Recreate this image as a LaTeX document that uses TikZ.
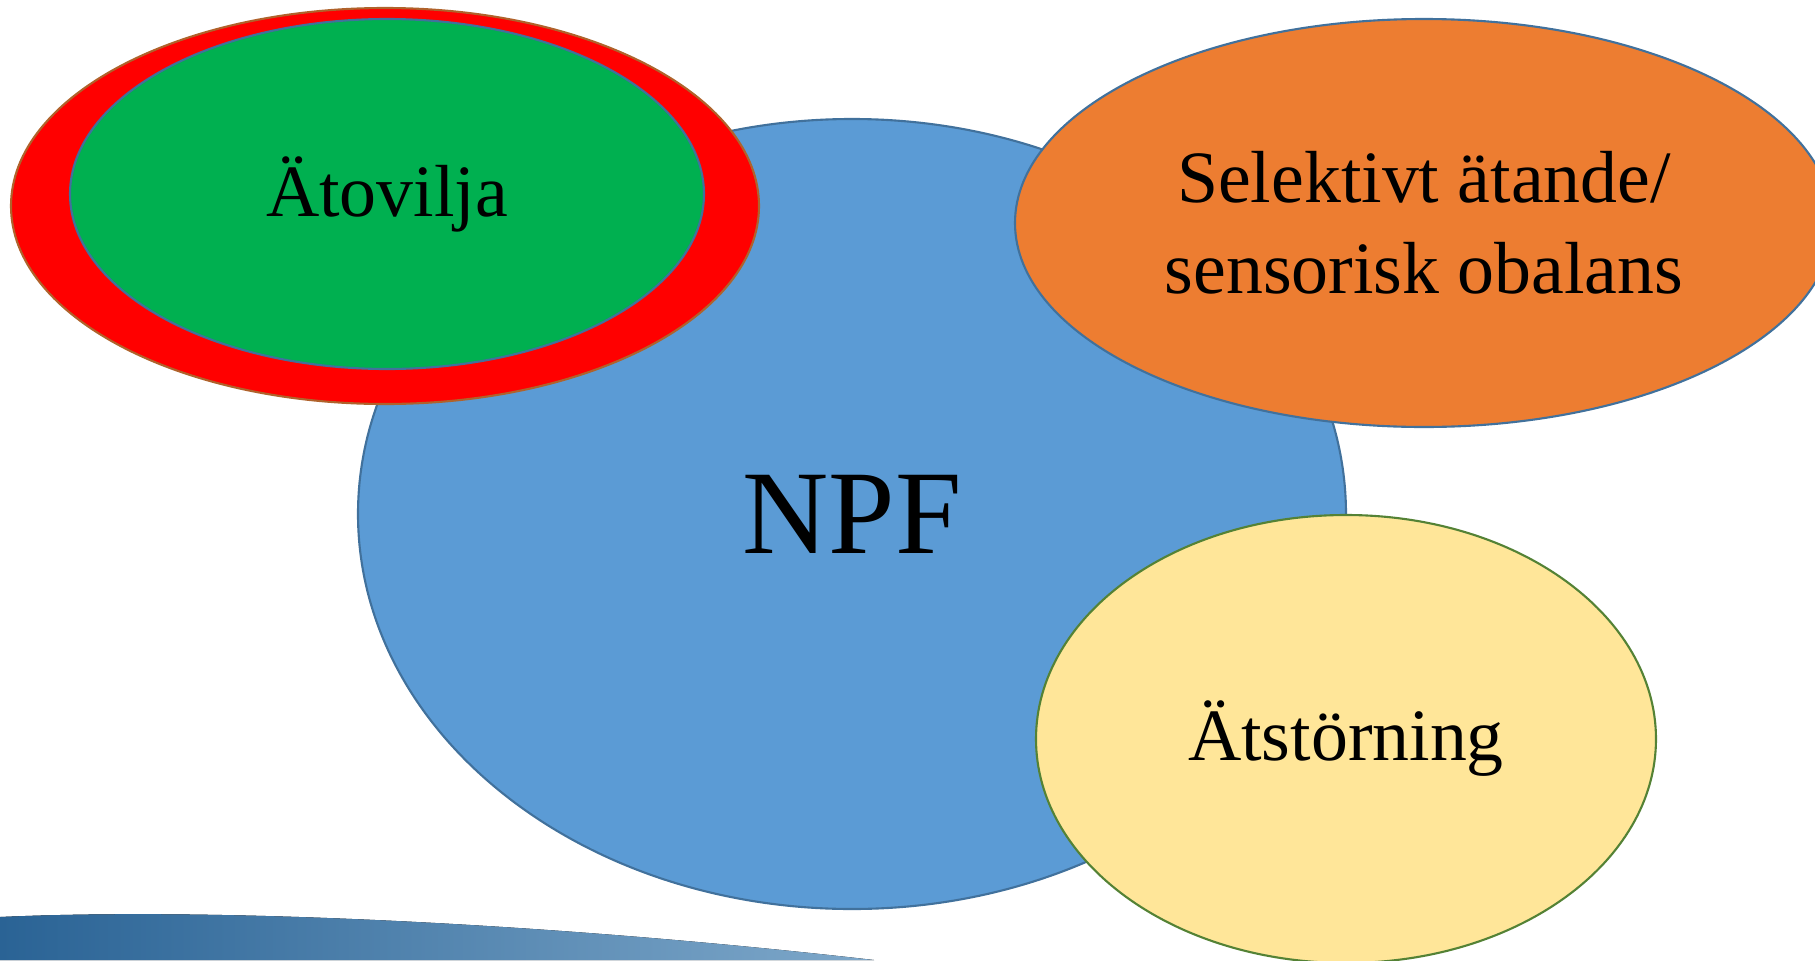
\documentclass[tikz,border=0pt]{standalone}
\usepackage{fontspec}
\setmainfont{Liberation Serif}
\usetikzlibrary{shapes.geometric}

\definecolor{npfblue}{HTML}{5B9BD5}
\definecolor{edgeblue}{HTML}{41719C}
\definecolor{okorange}{HTML}{ED7D31}
\definecolor{okgreen}{HTML}{00B050}
\definecolor{okyellow}{HTML}{FFE699}
\definecolor{edgegreen}{HTML}{548235}
\definecolor{edgebrown}{HTML}{B0622B}
\definecolor{swooshdark}{HTML}{2A6395}
\definecolor{swooshlight}{HTML}{7EA8CA}

\begin{document}
\begin{tikzpicture}[
	topic/.style={ellipse, draw=edgeblue, line width=0.6pt, inner sep=0pt, align=center, font=\fontsize{21}{26}\selectfont},
	core/.style={topic, fill=npfblue, font=\fontsize{34}{40}\selectfont}
]
\clip (0,0) rectangle (18.15,9.60);

% background swoosh
\fill[left color=swooshdark, right color=swooshlight]
	(0,0) -- (0,0.43) .. controls (2.2,0.53) and (5.6,0.36) .. (8.74,0) -- cycle;

\node[core, minimum width=9.88cm, minimum height=7.90cm] (npf) at (8.52,4.46) {NPF};
\node[topic, fill=red, draw=edgebrown, minimum width=7.48cm, minimum height=3.96cm] (atovilja_ring) at (3.85,7.54) {};
\node[topic, fill=okgreen, minimum width=6.34cm, minimum height=3.50cm] (atovilja) at (3.87,7.66) {Ätovilja};
\node[topic, fill=okorange, minimum width=8.18cm, minimum height=4.08cm] (selektivt) at (14.24,7.37) {Selektivt ätande/\\sensorisk obalans};
\node[topic, fill=okyellow, draw=edgegreen, minimum width=6.20cm, minimum height=4.48cm] (atstorning) at (13.46,2.21) {Ätstörning};
\end{tikzpicture}
\end{document}
